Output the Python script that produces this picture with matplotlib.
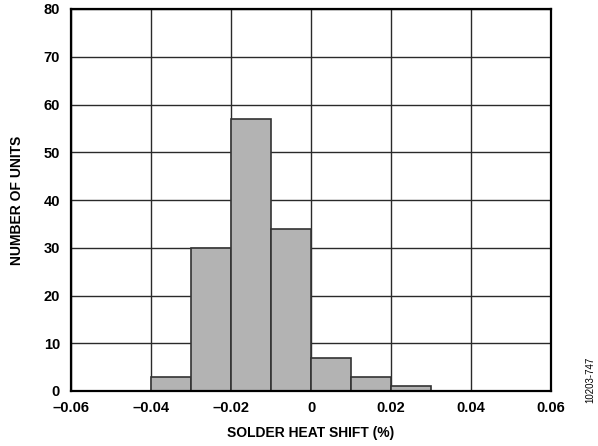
import matplotlib
matplotlib.use("Agg")
import matplotlib.pyplot as plt

bin_edges = [-0.04, -0.03, -0.02, -0.01, 0.0, 0.01, 0.02, 0.03]
counts = [3, 30, 57, 34, 7, 3, 1]
x_ticks = [-0.06, -0.04, -0.02, 0, 0.02, 0.04, 0.06]
x_tick_labels = ["\u20130.06", "\u20130.04", "\u20130.02", "0", "0.02", "0.04", "0.06"]
y_ticks = [0, 10, 20, 30, 40, 50, 60, 70, 80]

plt.rcParams['font.family'] = ['Liberation Sans', 'DejaVu Sans']

fig = plt.figure(figsize=(5.98, 4.46), dpi=100)
ax = fig.add_axes([71/598, 1-391/446, (551-71)/598, (391-9)/446])

widths = [bin_edges[i+1]-bin_edges[i] for i in range(len(counts))]
ax.bar(bin_edges[:-1], counts, width=widths, align='edge',
       color='#b3b3b3', edgecolor='#333333', linewidth=1.2, zorder=3)

ax.set_xlim(-0.06, 0.06)
ax.set_ylim(0, 80)
ax.set_xticks(x_ticks)
ax.set_xticklabels(x_tick_labels)
ax.set_yticks(y_ticks)
ax.grid(True, color='#2a2a2a', linewidth=1.0, zorder=1)
ax.set_axisbelow(True)
ax.tick_params(length=0, labelsize=10.5)
ax.tick_params(axis='y', pad=8)
ax.tick_params(axis='x', pad=7)
for lab in ax.get_xticklabels() + ax.get_yticklabels():
    lab.set_fontweight('bold')
for s in ax.spines.values():
    s.set_linewidth(1.6)
    s.set_color('black')
    s.set_zorder(5)

ax.set_xlabel("SOLDER HEAT SHIFT (%)", fontsize=10, fontweight='bold', labelpad=8)
ax.set_ylabel("NUMBER OF UNITS", fontsize=10, fontweight='bold', labelpad=14)

fig.text(590/598, 1-380/446, "10203-747", rotation=90, fontsize=7,
         ha='center', va='center')

fig.savefig("out.png", dpi=100)
